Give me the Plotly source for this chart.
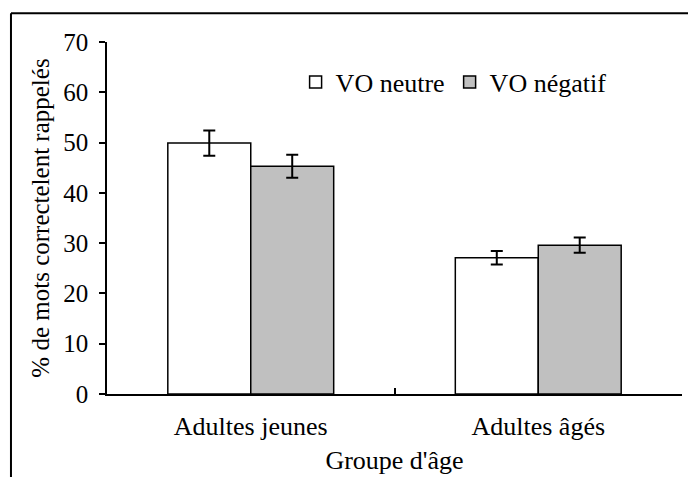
import plotly.graph_objects as go

groupes = ['Adultes jeunes', 'Adultes âgés']
vo_neutre = [49.9, 27.1]
vo_neutre_err = [2.5, 1.35]
vo_negatif = [45.3, 29.6]
vo_negatif_err = [2.3, 1.5]

police = dict(family='Liberation Serif', size=26, color='black')
police_titre_y = dict(family='Liberation Serif', size=25, color='black')
police_ticks = dict(family='Liberation Serif', size=25, color='black')

fig = go.Figure()
fig.add_trace(go.Bar(
    x=groupes, y=vo_neutre, name='VO neutre',
    marker=dict(color='white', line=dict(color='black', width=1.5)),
    error_y=dict(type='data', array=vo_neutre_err, color='black', thickness=2, width=6),
))
fig.add_trace(go.Bar(
    x=groupes, y=vo_negatif, name='VO négatif',
    marker=dict(color='#c0c0c0', line=dict(color='black', width=1.5)),
    error_y=dict(type='data', array=vo_negatif_err, color='black', thickness=2, width=6),
))

fig.update_layout(
    width=696, height=477,
    margin=dict(l=99, r=22, t=34, b=91),
    paper_bgcolor='white', plot_bgcolor='white',
    font=police,
    barmode='group', bargap=0.423, bargroupgap=0,
    showlegend=True,
    legend=dict(orientation='h', x=0.328, y=0.886, xanchor='left', yanchor='middle',
                itemwidth=30, font=police, bgcolor='rgba(0,0,0,0)', traceorder='normal'),
    xaxis=dict(
        showline=True, linecolor='black', linewidth=1.5,
        ticks='inside', tickson='boundaries', ticklen=6, tickcolor='black', tickwidth=1.5,
        ticklabelstandoff=8,
        title=dict(text="Groupe d'âge", font=police, standoff=11),
        tickfont=police, automargin=False,
    ),
    yaxis=dict(
        range=[0, 70], dtick=10, showgrid=False, zeroline=False,
        showline=True, linecolor='black', linewidth=1.5,
        ticks='outside', ticklen=6, tickcolor='black', tickwidth=1.5,
        ticklabelstandoff=6,
        title=dict(text='% de mots correctelent rappelés', font=police_titre_y, standoff=7),
        tickfont=police_ticks, automargin=False,
    ),
)

# cadre du graphique (haut et gauche visibles)
fig.add_shape(type='line', xref='paper', yref='paper', x0=-0.167, y0=1.0815, x1=1.1, y1=1.0815,
              line=dict(color='black', width=2))
fig.add_shape(type='line', xref='paper', yref='paper', x0=-0.167, y0=1.0815, x1=-0.167, y1=-0.3,
              line=dict(color='black', width=2))

fig.write_html('out.html')
